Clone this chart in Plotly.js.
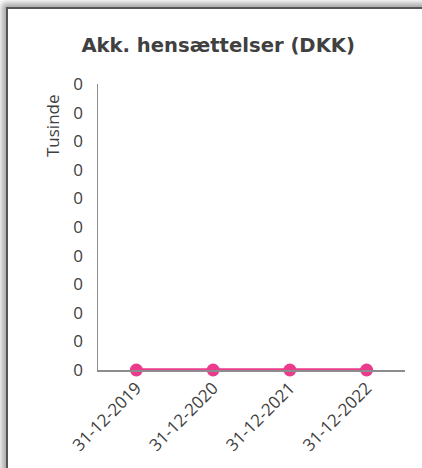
<!DOCTYPE html>
<html>
<head>
<meta charset="utf-8">
<script src="https://cdn.plot.ly/plotly-3.0.1.min.js"></script>
<style>
html,body{margin:0;padding:0;width:422px;height:468px;overflow:hidden;background:#fff;}
#frame{position:absolute;left:6px;top:7px;width:460px;height:520px;border-top:2px solid #555;border-left:2px solid #555;box-shadow:-4px -4px 6px rgba(0,0,0,0.35);background:#fff;}
#chart{position:absolute;left:0;top:0;width:422px;height:468px;}
</style>
</head>
<body>
<div id="frame"></div>
<div id="chart"></div>
<script>
const categories = ["31-12-2019", "31-12-2020", "31-12-2021", "31-12-2022"];
const values = [0, 0, 0, 0];
const yTickVals = [0, 0.01, 0.02, 0.03, 0.04, 0.05, 0.06, 0.07, 0.08, 0.09, 0.1];
const yTickText = ["0", "0", "0", "0", "0", "0", "0", "0", "0", "0", "0"];
const titleText = "Akk. hensættelser (DKK)";
const yTitleText = "Tusinde";

const txt = '#404040';
Plotly.newPlot('chart', [{
  x: categories,
  y: values,
  type: 'scatter',
  mode: 'lines+markers',
  line: {color: '#EC3A8C', width: 3.5},
  marker: {color: '#EC3A8C', size: 13},
  cliponaxis: false,
  hoverinfo: 'none'
}], {
  width: 422, height: 468,
  paper_bgcolor: 'rgba(0,0,0,0)',
  plot_bgcolor: 'rgba(0,0,0,0)',
  margin: {l: 98, r: 17, t: 84, b: 98},
  showlegend: false,
  font: {family: 'DejaVu Sans, sans-serif', color: txt},
  title: {text: '<b>' + titleText + '</b>', font: {size: 19.6, color: txt}, x: 0.517, xanchor: 'center', y: 0.903, yanchor: 'middle'},
  xaxis: {
    type: 'category', range: [-0.5, 3.5],
    showline: true, linecolor: '#8c8c8c', linewidth: 1.5,
    showgrid: false, zeroline: false, ticks: '',
    tickangle: -45, tickfont: {size: 17, color: txt, family: 'Open Sans, sans-serif'},
    ticklabelstandoff: 0
  },
  yaxis: {
    range: [0, 0.1],
    tickvals: yTickVals, ticktext: yTickText,
    showline: true, linecolor: '#8c8c8c', linewidth: 1.5,
    showgrid: false, zeroline: false, ticks: '',
    tickfont: {size: 17, color: txt, family: 'Open Sans, sans-serif'},
    ticklabelstandoff: 10
  },
  annotations: [{
    text: yTitleText, textangle: -90, showarrow: false,
    xref: 'paper', yref: 'paper', x: -0.148, y: 0.855, xanchor: 'center', yanchor: 'middle',
    font: {size: 17, color: txt, family: 'Open Sans, sans-serif'}
  }]
}, {staticPlot: true});
</script>
</body>
</html>
